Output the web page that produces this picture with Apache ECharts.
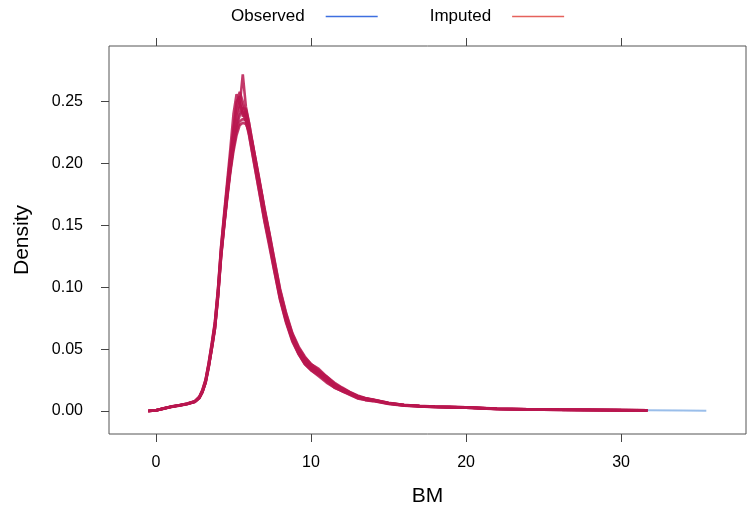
<!DOCTYPE html>
<html>
<head>
<meta charset="utf-8">
<script src="https://cdn.jsdelivr.net/npm/echarts@6/dist/echarts.min.js"></script>
<style>html,body{margin:0;padding:0;background:#fff}#c{width:747px;height:517px}</style>
</head>
<body>
<div id="c"></div>
<script>
// Shared BM grid (x values)
const bmGrid = [-0.5, 0, 0.5, 1, 1.5, 2, 2.5, 2.8, 3.0, 3.2, 3.4, 3.6, 3.8, 4.0, 4.2, 4.4, 4.6, 4.8, 5.0, 5.2, 5.4, 5.6, 5.8, 6.0, 6.2, 6.4, 6.6, 6.8, 7.0, 7.3, 7.6, 8.0, 8.4, 8.8, 9.2, 9.6, 10, 10.5, 11, 11.5, 12, 12.5, 13, 13.5, 14, 15, 16, 17, 18, 19, 20, 22, 24, 26, 28, 30, 31.7, 34, 35.5];

// Observed density
const observed = [0, 0.0005, 0.002, 0.0035, 0.0045, 0.0058, 0.0075, 0.011, 0.016, 0.024, 0.037, 0.052, 0.068, 0.095, 0.128, 0.153, 0.177, 0.199, 0.217, 0.231, 0.240, 0.242, 0.238, 0.228, 0.214, 0.200, 0.186, 0.172, 0.158, 0.139, 0.119, 0.093, 0.073, 0.058, 0.047, 0.039, 0.034, 0.030, 0.025, 0.020, 0.017, 0.014, 0.011, 0.0095, 0.0085, 0.006, 0.0045, 0.0038, 0.0033, 0.0030, 0.0028, 0.0017, 0.0013, 0.0010, 0.0008, 0.0007, 0.0005, 0.0003, 0.0001];

// Imputed densities
const imputed1 = [0, 0.0006, 0.0022, 0.0036, 0.0047, 0.006, 0.0078, 0.0115, 0.017, 0.025, 0.038, 0.053, 0.070, 0.097, 0.130, 0.156, 0.181, 0.205, 0.228, 0.246, 0.258, 0.250, 0.240, 0.229, 0.216, 0.202, 0.188, 0.174, 0.160, 0.141, 0.121, 0.095, 0.075, 0.060, 0.049, 0.041, 0.036, 0.031, 0.026, 0.021, 0.018, 0.015, 0.012, 0.010, 0.009, 0.0065, 0.005, 0.004, 0.0035, 0.0032, 0.0029, 0.0018, 0.0014, 0.0011, 0.0009, 0.0007, 0.0005];
const imputed2 = [0, 0.0004, 0.0019, 0.0034, 0.0044, 0.0056, 0.0073, 0.0105, 0.0155, 0.023, 0.036, 0.051, 0.067, 0.093, 0.126, 0.151, 0.175, 0.197, 0.215, 0.232, 0.247, 0.272, 0.246, 0.233, 0.218, 0.203, 0.189, 0.175, 0.160, 0.140, 0.120, 0.094, 0.074, 0.059, 0.048, 0.040, 0.035, 0.031, 0.026, 0.021, 0.017, 0.0145, 0.0115, 0.0098, 0.0087, 0.0062, 0.0046, 0.0039, 0.0034, 0.0031, 0.0027, 0.0016, 0.0012, 0.0010, 0.0008, 0.0006, 0.0004];
const imputed3 = [0, 0.0005, 0.002, 0.0034, 0.0046, 0.0059, 0.0076, 0.0108, 0.0158, 0.0235, 0.036, 0.050, 0.066, 0.091, 0.124, 0.149, 0.172, 0.193, 0.210, 0.223, 0.231, 0.233, 0.232, 0.226, 0.215, 0.203, 0.190, 0.177, 0.163, 0.144, 0.124, 0.098, 0.078, 0.062, 0.051, 0.043, 0.038, 0.033, 0.027, 0.022, 0.018, 0.0148, 0.0118, 0.010, 0.0088, 0.0063, 0.0048, 0.0040, 0.0034, 0.0031, 0.0029, 0.0019, 0.0014, 0.0011, 0.0009, 0.0007, 0.0005];
const imputed4 = [0, 0.0006, 0.0021, 0.0037, 0.0045, 0.0057, 0.0077, 0.0112, 0.0165, 0.0245, 0.038, 0.054, 0.071, 0.098, 0.132, 0.158, 0.183, 0.206, 0.226, 0.250, 0.254, 0.245, 0.236, 0.224, 0.210, 0.196, 0.182, 0.168, 0.154, 0.136, 0.116, 0.091, 0.072, 0.057, 0.046, 0.038, 0.033, 0.029, 0.024, 0.019, 0.016, 0.0135, 0.0105, 0.009, 0.0082, 0.0058, 0.0044, 0.0037, 0.0032, 0.0029, 0.0026, 0.0016, 0.0012, 0.0009, 0.0008, 0.0006, 0.0004];
const imputed5 = [0, 0.0005, 0.0018, 0.0033, 0.0043, 0.0055, 0.0072, 0.0103, 0.015, 0.0225, 0.035, 0.050, 0.066, 0.092, 0.125, 0.150, 0.174, 0.196, 0.215, 0.230, 0.239, 0.245, 0.244, 0.233, 0.219, 0.205, 0.191, 0.177, 0.162, 0.143, 0.122, 0.096, 0.076, 0.061, 0.050, 0.042, 0.036, 0.032, 0.028, 0.023, 0.019, 0.0155, 0.0125, 0.0105, 0.0092, 0.0066, 0.0049, 0.0041, 0.0036, 0.0033, 0.0030, 0.0018, 0.0013, 0.0011, 0.0009, 0.0007, 0.0006];
const imputed6 = [0, 0.0004, 0.002, 0.0035, 0.0046, 0.0058, 0.0074, 0.0109, 0.016, 0.024, 0.037, 0.052, 0.069, 0.095, 0.128, 0.154, 0.179, 0.202, 0.222, 0.240, 0.250, 0.238, 0.242, 0.230, 0.214, 0.199, 0.185, 0.171, 0.157, 0.138, 0.118, 0.092, 0.073, 0.058, 0.047, 0.039, 0.035, 0.030, 0.025, 0.020, 0.0165, 0.0138, 0.011, 0.0094, 0.0084, 0.006, 0.0045, 0.0038, 0.0033, 0.0031, 0.0028, 0.0017, 0.0013, 0.001, 0.0008, 0.0007, 0.0005];
const imputed7 = [0, 0.0006, 0.0021, 0.0035, 0.0044, 0.0057, 0.0075, 0.0107, 0.0155, 0.023, 0.0355, 0.051, 0.067, 0.093, 0.126, 0.151, 0.174, 0.195, 0.213, 0.226, 0.234, 0.236, 0.235, 0.228, 0.218, 0.205, 0.192, 0.178, 0.164, 0.145, 0.125, 0.099, 0.079, 0.063, 0.052, 0.044, 0.038, 0.034, 0.028, 0.022, 0.0185, 0.015, 0.012, 0.0102, 0.009, 0.0064, 0.0048, 0.004, 0.0035, 0.0032, 0.0029, 0.0018, 0.0014, 0.0011, 0.0009, 0.0007, 0.0005];
const imputed8 = [0, 0.0005, 0.0021, 0.0036, 0.0047, 0.0059, 0.0079, 0.0116, 0.0172, 0.0255, 0.039, 0.055, 0.072, 0.099, 0.133, 0.160, 0.186, 0.212, 0.240, 0.256, 0.248, 0.241, 0.234, 0.223, 0.209, 0.195, 0.181, 0.167, 0.153, 0.134, 0.115, 0.090, 0.071, 0.056, 0.046, 0.038, 0.033, 0.028, 0.023, 0.019, 0.016, 0.013, 0.0102, 0.0088, 0.008, 0.0057, 0.0043, 0.0036, 0.0031, 0.0028, 0.0026, 0.0015, 0.0012, 0.0009, 0.0007, 0.0006, 0.0004];

const xTicks = [0, 10, 20, 30];
const yTicks = [0, 0.05, 0.10, 0.15, 0.20, 0.25];

const imputedList = [imputed1, imputed2, imputed3, imputed4, imputed5, imputed6, imputed7, imputed8];
const pair = arr => arr.map((v, i) => [bmGrid[i], v]);

const FONT = 'Liberation Sans, Arial, sans-serif';
const series = [{
  name: 'Observed', type: 'line', data: pair(observed), showSymbol: false, symbol: 'none',
  lineStyle: {color: '#1f6fd0', width: 2, opacity: 0.45}, itemStyle: {color: '#1f6fd0'}, silent: true, z: 2
}];
imputedList.forEach(arr => series.push({
  name: 'Imputed', type: 'line', data: pair(arr), showSymbol: false, symbol: 'none',
  lineStyle: {color: '#b8164f', width: 2.6, opacity: 0.85}, itemStyle: {color: '#b8164f'}, silent: true, z: 3
}));

const chart = echarts.init(document.getElementById('c'), null, {renderer: 'canvas'});
chart.setOption({
  animation: false,
  backgroundColor: '#ffffff',
  grid: {left: 109, right: 1, top: 46, bottom: 83, show: true, borderColor: '#555', borderWidth: 1, backgroundColor: 'transparent'},
  legend: {
    left: 226, top: 3, align: 'right', icon: 'rect', itemWidth: 52, itemHeight: 1.5, itemGap: 52,
    selectedMode: false,
    textStyle: {fontFamily: FONT, fontSize: 17, color: '#000', padding: [0, 16, 0, 0]},
    data: [{name: 'Observed', itemStyle: {color: '#3e6fe0'}}, {name: 'Imputed', itemStyle: {color: '#e5625c'}}]
  },
  xAxis: [{
    type: 'value', min: -3.03, max: 38.06, position: 'bottom',
    name: 'BM', nameLocation: 'middle', nameGap: 52,
    nameTextStyle: {fontFamily: FONT, fontSize: 21, color: '#000'},
    axisLine: {show: false, onZero: false}, splitLine: {show: false},
    axisTick: {show: true, inside: false, length: 8, customValues: xTicks, lineStyle: {color: '#444'}},
    axisLabel: {customValues: xTicks, margin: 21, fontFamily: FONT, fontSize: 16, color: '#000'}
  }, {
    type: 'value', min: -3.03, max: 38.06, position: 'top',
    axisLine: {show: false, onZero: false}, splitLine: {show: false},
    axisTick: {show: true, length: 8, customValues: xTicks, lineStyle: {color: '#444'}},
    axisLabel: {show: false}
  }],
  yAxis: [{
    type: 'value', min: -0.0186, max: 0.295, position: 'left',
    name: 'Density', nameLocation: 'middle', nameGap: 76, nameRotate: 90,
    nameTextStyle: {fontFamily: FONT, fontSize: 21, color: '#000'},
    axisLine: {show: false, onZero: false}, splitLine: {show: false},
    axisTick: {show: true, length: 8, customValues: yTicks, lineStyle: {color: '#444'}},
    axisLabel: {customValues: yTicks, margin: 26, fontFamily: FONT, fontSize: 16, color: '#000', formatter: v => v.toFixed(2)}
  }],
  series: series
});
</script>
</body>
</html>
